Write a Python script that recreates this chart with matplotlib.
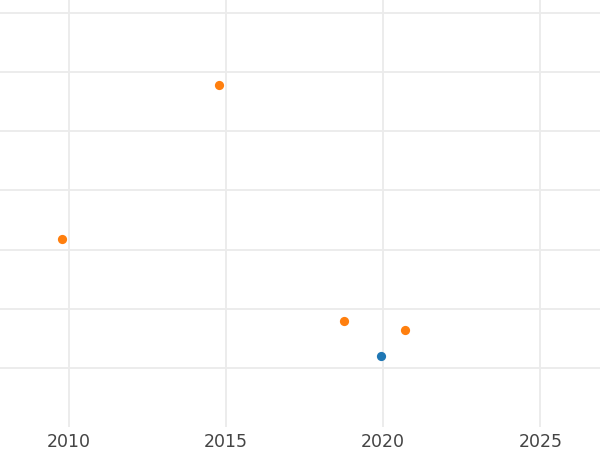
import matplotlib
matplotlib.use('Agg')
import matplotlib.pyplot as plt

# two groups of points, year on x, unlabelled value on y
blue_years = [2019.94]
blue_vals = [1.20]
orange_years = [2014.78, 2009.78, 2018.76, 2020.70]
orange_vals = [5.78, 3.18, 1.79, 1.64]
x_ticks = [2010, 2015, 2020, 2025]
y_grid = [1, 2, 3, 4, 5, 6, 7]


def run():
    fig = plt.figure(figsize=(6, 4.5), dpi=100)
    ax = fig.add_axes([0, 0.051, 1, 0.949])
    ax.scatter(blue_years, blue_vals, s=44, color='#1f77b4', zorder=3, linewidths=0)
    ax.scatter(orange_years, orange_vals, s=44, color='#ff7f0e', zorder=3, linewidths=0)
    ax.set_xlim(2007.8, 2026.9)
    ax.set_ylim(0, 7.22)
    ax.set_xticks(x_ticks)
    ax.set_yticks(y_grid)
    ax.set_yticklabels([])
    ax.grid(True, color='#ebebeb', linewidth=1.3)
    ax.set_axisbelow(True)
    for s in ax.spines.values():
        s.set_visible(False)
    ax.tick_params(axis='both', length=0)
    ax.tick_params(axis='x', labelsize=12.5, labelcolor='#444444', pad=4)
    fig.savefig('out.png', dpi=100)

if __name__ == '__main__':
    run()
